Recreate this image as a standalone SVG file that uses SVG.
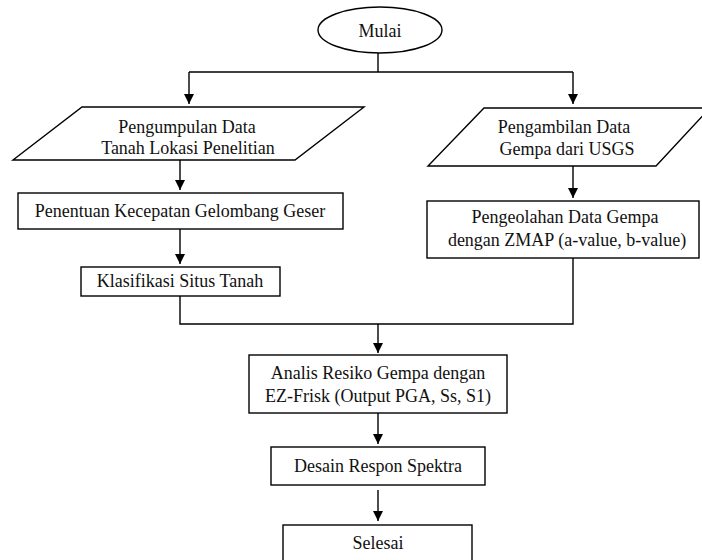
<svg xmlns="http://www.w3.org/2000/svg" width="702" height="560" viewBox="0 0 702 560">
<style>
.s{fill:#fff;stroke:#000;stroke-width:1.4}
.c{fill:none;stroke:#000;stroke-width:1.4}
.t{font-family:'Liberation Serif', 'Times New Roman', serif;font-size:18px;fill:#111;text-anchor:middle}
</style>
<defs>
<marker id="a" viewBox="0 0 10 10" refX="10" refY="5" markerWidth="10" markerHeight="10" markerUnits="userSpaceOnUse" orient="auto">
<path d="M0,0 L10,5 L0,10 Z" fill="#000"/>
</marker>
</defs>
<rect width="702" height="560" fill="#fff"/>
<g id="connectors">
<path class="c" d="M378,53 V72"/>
<path class="c" d="M189,72 H573"/>
<path class="c" d="M189,72 V104" marker-end="url(#a)"/>
<path class="c" d="M573,72 V104" marker-end="url(#a)"/>
<path class="c" d="M180,160 V190" marker-end="url(#a)"/>
<path class="c" d="M180,229 V264" marker-end="url(#a)"/>
<path class="c" d="M573,166 V198" marker-end="url(#a)"/>
<path class="c" d="M180,296 V324 H573 V258"/>
<path class="c" d="M378,324 V353" marker-end="url(#a)"/>
<path class="c" d="M378,413 V444" marker-end="url(#a)"/>
<path class="c" d="M378,490 V521" marker-end="url(#a)"/>
</g>
<g id="mulai">
<ellipse class="s" cx="380" cy="30" rx="62" ry="23"/>
<text class="t" font-family="Liberation Serif, serif" x="380" y="37">Mulai</text>
</g>
<g id="pengumpulan">
<polygon class="s" points="82,107 364,107 295,160 13,160"/>
<text class="t" font-family="Liberation Serif, serif" x="187" y="133">Pengumpulan Data</text>
<text class="t" font-family="Liberation Serif, serif" x="188" y="154">Tanah Lokasi Penelitian</text>
</g>
<g id="pengambilan">
<polygon class="s" points="484,108 710,108 656,166 428,166"/>
<text class="t" font-family="Liberation Serif, serif" x="564" y="133">Pengambilan Data</text>
<text class="t" font-family="Liberation Serif, serif" x="567" y="155">Gempa dari USGS</text>
</g>
<g id="penentuan">
<rect class="s" x="18" y="193" width="325" height="36"/>
<text class="t" font-family="Liberation Serif, serif" x="180" y="217">Penentuan Kecepatan Gelombang Geser</text>
</g>
<g id="klasifikasi">
<rect class="s" x="81" y="267" width="199" height="29"/>
<text class="t" font-family="Liberation Serif, serif" x="180" y="287">Klasifikasi Situs Tanah</text>
</g>
<g id="pengeolahan">
<rect class="s" x="427" y="201" width="272" height="57"/>
<text class="t" font-family="Liberation Serif, serif" x="565" y="223">Pengeolahan Data Gempa</text>
<text class="t" font-family="Liberation Serif, serif" x="567" y="246">dengan ZMAP (a-value, b-value)</text>
</g>
<g id="analis">
<rect class="s" x="249" y="355" width="258" height="58"/>
<text class="t" font-family="Liberation Serif, serif" x="378" y="379">Analis Resiko Gempa dengan</text>
<text class="t" font-family="Liberation Serif, serif" x="378" y="402">EZ-Frisk (Output PGA, Ss, S1)</text>
</g>
<g id="desain">
<rect class="s" x="271" y="447" width="214" height="38"/>
<text class="t" font-family="Liberation Serif, serif" x="378" y="472">Desain Respon Spektra</text>
</g>
<g id="selesai">
<rect class="s" x="283" y="525" width="189" height="50"/>
<text class="t" font-family="Liberation Serif, serif" x="378" y="549">Selesai</text>
</g>
</svg>
